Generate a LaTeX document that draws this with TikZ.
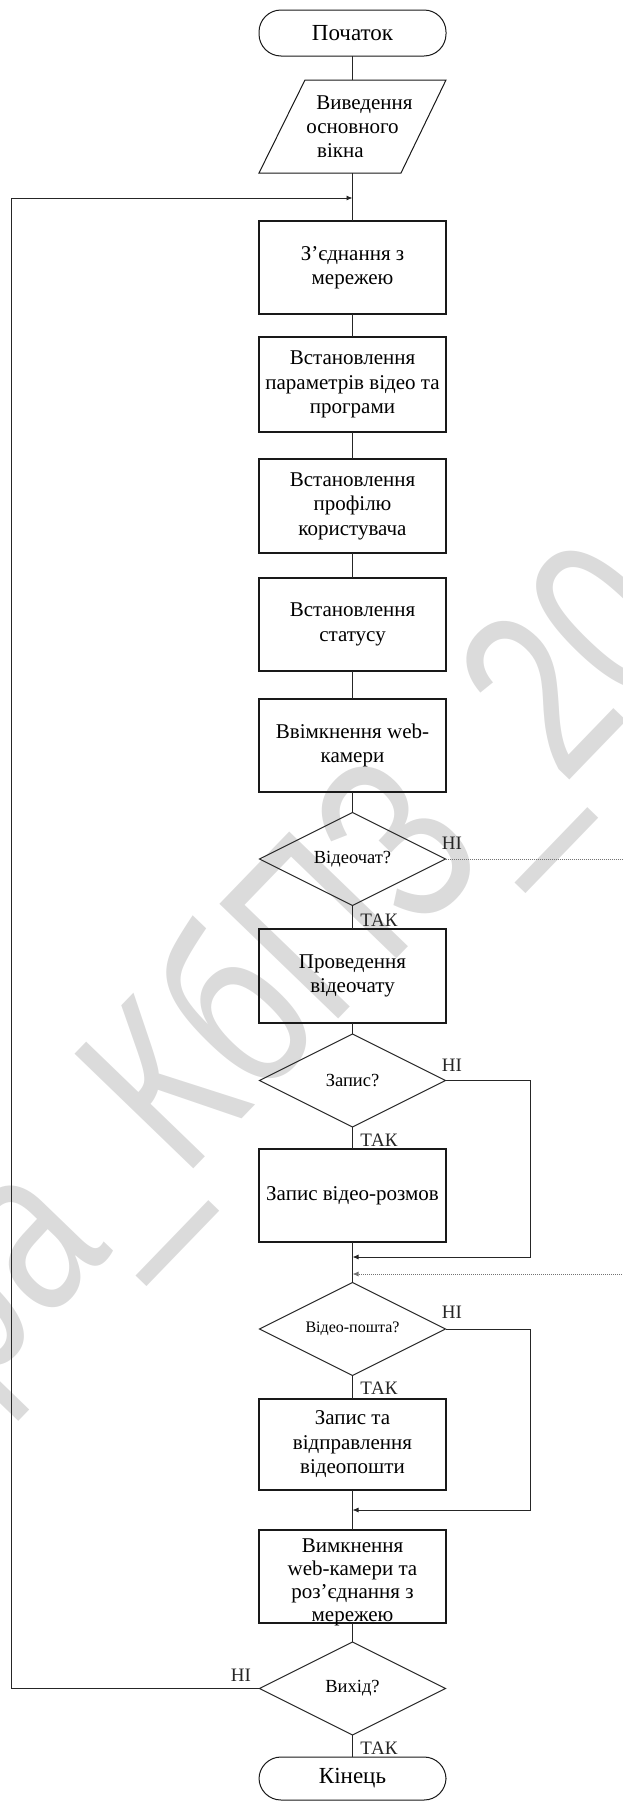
\documentclass[tikz,border=0pt]{standalone}
\usepackage{fontspec}
\setmainfont{Liberation Serif}
\newfontfamily\wmfont{Liberation Sans}
\usetikzlibrary{arrows.meta,shapes.geometric}
\begin{document}
\begin{tikzpicture}[x=1pt,y=-1pt,
  every node/.style={inner sep=0pt,outer sep=0pt},
  proc/.style={draw=black!90,line width=1.2pt,minimum width=187pt,minimum height=93pt,
    align=center,font=\fontsize{21}{24.5}\selectfont},
  txt/.style={align=center,font=\fontsize{21}{23}\selectfont},
  term/.style={draw=black!90,line width=1pt,rounded corners=22pt,minimum width=187pt,
    font=\fontsize{23}{26}\selectfont},
  decide/.style={diamond,draw=black!85,line width=1pt,minimum width=186pt,minimum height=93pt,
    aspect=2,font=\fontsize{18.5}{20}\selectfont},
  lab/.style={font=\fontsize{19}{20}\selectfont,text=black!85},
  flow/.style={draw=black!85,line width=0.9pt},
  tip/.style={-{Latex[length=6pt,width=5pt]}},
  dotline/.style={draw=black!55,line width=0.9pt,dash pattern=on 1pt off 1pt},
  wm/.style={text=black!14,font=\wmfont\fontsize{240}{240}\selectfont}
]
\useasboundingbox (0,0) rectangle (622,1802);
% watermark
\node[wm,rotate=46,xscale=0.75,anchor=base west] (wmark) at (-25,1395) {ра\_КбПЗ\_20};

% nodes
\node[term,minimum height=46pt] (start) at (352.5,33) {Початок};
\node[minimum width=187pt,minimum height=93pt,align=center,font=\fontsize{21}{24}\selectfont] (io) at (352.5,126.5)
  {\hspace*{24pt}Виведення\\основного\\вікна\hspace*{24pt}};
\draw[draw=black!90,line width=1pt] (305,80) -- (446,80) -- (401,173) -- (259,173) -- cycle;
\node[proc] (b1) at (352.5,267.5) {З’єднання з\\мережею};
\node[proc,minimum height=95pt] (b2) at (352.5,384.5) {Встановлення\\параметрів відео та\\програми};
\node[proc,minimum height=94pt] (b3) at (352.5,506) {Встановлення\\профілю\\користувача};
\node[proc] (b4) at (352.5,624.5) {Встановлення\\статусу};
\node[proc] (b5) at (352.5,745.5) {Ввімкнення web-\\камери};
\node[decide] (d1) at (352.5,859) {Відеочат?};
\node[proc,minimum height=94pt] (b6) at (352.5,976) {Проведення\\відеочату};
\node[decide] (d2) at (352.5,1080.5) {Запис?};
\node[proc] (b7) at (352.5,1195.5) {Запис відео-розмов};
\node[decide,font=\fontsize{16}{18}\selectfont] (d3) at (352.5,1329) {Відео-пошта?};
\node[proc,minimum height=91pt] (b8) at (352.5,1444.5) {Запис та\\відправлення\\відеопошти};
\node[proc] (b9) at (352.5,1576.5) {};
\node[txt] (b9t) at (352.5,1582) {Вимкнення\\web-камери та\\роз’єднання з\\мережею};
\node[decide] (d4) at (352.5,1688.5) {Вихід?};
\node[term,minimum height=43pt] (end) at (352.5,1778.5) {Кінець};

% labels
\node[lab] (n1) at (452,843) {НІ};
\node[lab] (n2) at (452,1065) {НІ};
\node[lab] (n3) at (452,1312) {НІ};
\node[lab] (n4) at (241,1675) {НІ};
\node[lab] (t1) at (379,920) {ТАК};
\node[lab] (t2) at (379,1140) {ТАК};
\node[lab] (t3) at (379,1388) {ТАК};
\node[lab] (t4) at (379,1748) {ТАК};

% merge coordinates
\coordinate (m0) at (352.5,198);
\coordinate (lx) at (11,198);
\coordinate (m1) at (352.5,1257);
\coordinate (r1) at (530,1257);
\coordinate (m2) at (352.5,1274);
\coordinate (r2) at (634,1274);
\coordinate (m3) at (352.5,1510);
\coordinate (r3) at (530,1510);

% main flow
\draw[flow] (start) -- (io);
\draw[flow] (io) -- (b1);
\draw[flow] (b1) -- (b2);
\draw[flow] (b2) -- (b3);
\draw[flow] (b3) -- (b4);
\draw[flow] (b4) -- (b5);
\draw[flow] (b5) -- (d1);
\draw[flow] (d1) -- (b6);
\draw[flow] (b6) -- (d2);
\draw[flow] (d2) -- (b7);
\draw[flow] (b7) -- (d3);
\draw[flow] (d3) -- (b8);
\draw[flow] (b8) -- (b9);
\draw[flow] (b9) -- (d4);
\draw[flow] (d4) -- (end);

% branches
\draw[flow,tip] (d4.west) -| (lx) -- (m0);
\draw[dotline,tip] (d1.east) -| (r2) -- (m2);
\draw[flow,tip] (d2.east) -| (r1) -- (m1);
\draw[flow,tip] (d3.east) -| (r3) -- (m3);
\end{tikzpicture}
\end{document}
